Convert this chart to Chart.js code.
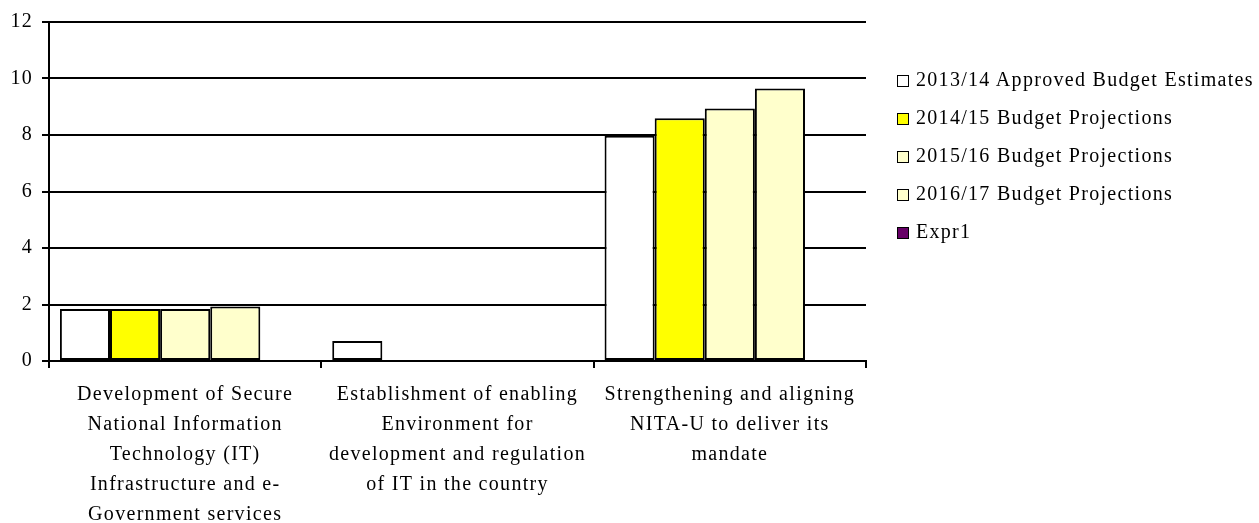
<!DOCTYPE html>
<html>
<head>
<meta charset="utf-8">
<script src="https://cdn.jsdelivr.net/npm/chart.js@4/dist/chart.umd.min.js"></script>
<style>
  body { margin: 0; background: #fff; }
  #wrap { position: relative; width: 1259px; height: 523px; }
  #legend {
    position: absolute; left: 897px; top: 60px;
    font-family: 'Liberation Serif', 'Times New Roman', serif;
    font-size: 20px; letter-spacing: 1.3px; color: #000;
  }
  #legend .item { height: 38px; line-height: 38px; white-space: nowrap; }
  #legend .box {
    display: inline-block; width: 10px; height: 10px;
    border: 1.5px solid #000; margin-right: 7px; vertical-align: -1px;
  }
</style>
</head>
<body>
<div id="wrap">
  <canvas id="chart" width="1259" height="523"></canvas>
  <div id="legend"></div>
</div>
<script>
// Categories (x axis labels, one line per entry)
var categories = [
    ['Development of Secure', 'National Information', 'Technology (IT)', 'Infrastructure and e-', 'Government services'],
    ['Establishment of enabling', 'Environment for', 'development and regulation', 'of IT in the country'],
    ['Strengthening and aligning', 'NITA-U to deliver its', 'mandate']
];

// Series
var seriesNames = [
    '2013/14 Approved Budget Estimates',
    '2014/15 Budget Projections',
    '2015/16 Budget Projections',
    '2016/17 Budget Projections',
    'Expr1'
];
var approved1314 = [1.84, 0.71, 7.97];
var proj1415 = [1.84, 0, 8.59];
var proj1516 = [1.84, 0, 8.94];
var proj1617 = [1.93, 0, 9.65];
var expr1 = [0, 0, 0];

var seriesColors = ['#FFFFFF', '#FFFF00', '#FFFFCC', '#FFFFCC', '#660066'];

// Y axis ticks
var yTicks = [0, 2, 4, 6, 8, 10, 12];

var fontFamily = "'Liberation Serif', 'Times New Roman', serif";

// Canvas letter spacing to mimic the wide Excel text
var spacingPlugin = {
    id: 'spacing',
    beforeUpdate: function(chart) { chart.ctx.letterSpacing = '1.3px'; },
    beforeDraw: function(chart) { chart.ctx.letterSpacing = '1.3px'; }
};

var seriesData = [approved1314, proj1415, proj1516, proj1617, expr1];
var datasets = seriesData.map(function(values, i) {
    return {
        label: seriesNames[i],
        data: values,
        backgroundColor: seriesColors[i],
        borderColor: '#000',
        borderWidth: 2,
        borderSkipped: false,
        categoryPercentage: 0.92,
        barPercentage: 1.0
    };
});

var ctx = document.getElementById('chart').getContext('2d');
new Chart(ctx, {
    type: 'bar',
    data: { labels: categories, datasets: datasets },
    plugins: [spacingPlugin],
    options: {
        responsive: false,
        animation: false,
        layout: { padding: { top: 22, right: 393, left: 0, bottom: 0 } },
        plugins: {
            legend: { display: false },
            tooltip: { enabled: false }
        },
        scales: {
            x: {
                afterFit: function(scale) { scale.height = 162; },
                grid: {
                    display: true,
                    drawOnChartArea: false,
                    drawTicks: true,
                    tickLength: 7,
                    offset: true,
                    color: '#000',
                    lineWidth: 2
                },
                border: { display: true, color: '#000', width: 2 },
                ticks: {
                    color: '#000',
                    padding: 12,
                    maxRotation: 0,
                    autoSkip: false,
                    font: { family: fontFamily, size: 20, lineHeight: 30 / 20 }
                }
            },
            y: {
                min: 0,
                max: 12,
                afterFit: function(scale) { scale.width = 49; },
                afterBuildTicks: function(scale) {
                    scale.ticks = yTicks.map(function(v) { return { value: v }; });
                },
                grid: {
                    color: '#000',
                    lineWidth: 2,
                    drawTicks: true,
                    tickLength: 7
                },
                border: { display: true, color: '#000', width: 2 },
                ticks: {
                    color: '#000',
                    padding: 9,
                    font: { family: fontFamily, size: 20 }
                }
            }
        }
    }
});

// Legend (HTML) built from the series arrays
var legend = document.getElementById('legend');
seriesNames.forEach(function(name, i) {
    var item = document.createElement('div');
    item.className = 'item';
    var box = document.createElement('span');
    box.className = 'box';
    box.style.background = seriesColors[i];
    item.appendChild(box);
    item.appendChild(document.createTextNode(name));
    legend.appendChild(item);
});
</script>
</body>
</html>
